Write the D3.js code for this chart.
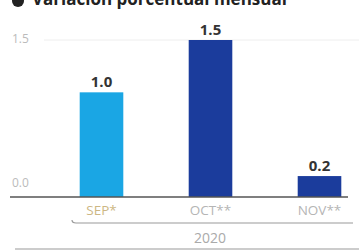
<!DOCTYPE html>
<html>
<head>
<meta charset="utf-8">
<script src="https://cdn.jsdelivr.net/npm/d3@7"></script>
<style>
  body { margin: 0; background: #fff; }
  svg { display: block; font-family: "Open Sans", sans-serif; }
</style>
</head>
<body>
<div id="chart"></div>
<script>
const title = "Variación porcentual mensual";
const months = ["SEP*", "OCT**", "NOV**"];
const values = [1.0, 1.5, 0.2];
const barColors = ["#1aa6e4", "#1b3c9c", "#1b3c9c"];
const yTicks = [0, 1.5];
const yearLabel = "2020";

const width = 359, height = 252;

const svg = d3.select("#chart")
  .append("svg")
  .attr("width", width)
  .attr("height", height);

// scales
const x = d3.scaleBand()
  .domain(months)
  .range([47, 374])
  .paddingInner(0.6)
  .paddingOuter(0.3);

const y = d3.scaleLinear()
  .domain([0, 1.5])
  .range([197, 40]);

// title (cut off at the top like in the original)
svg.append("circle")
  .attr("cx", 18).attr("cy", 1).attr("r", 6)
  .attr("fill", "#222");
svg.append("text")
  .attr("x", 32).attr("y", 5)
  .style("font-size", "17px")
  .style("font-weight", "bold")
  .attr("fill", "#222")
  .text(title);

// gridline at top tick
svg.append("line")
  .attr("x1", 44).attr("x2", width)
  .attr("y1", y(1.5)).attr("y2", y(1.5))
  .attr("stroke", "#eee").attr("stroke-width", 1);

// y labels
svg.selectAll(".ylab")
  .data(yTicks)
  .enter()
  .append("text")
  .attr("class", "ylab")
  .attr("x", 12)
  .attr("y", d => d === 0 ? y(d) - 10 : y(d) + 3)
  .style("font-size", "12px")
  .attr("fill", "#bbb")
  .text(d => d.toFixed(1));

// bars
svg.selectAll(".bar")
  .data(values)
  .enter()
  .append("rect")
  .attr("class", "bar")
  .attr("x", (d, i) => x(months[i]))
  .attr("y", d => y(d))
  .attr("width", x.bandwidth())
  .attr("height", d => y(0) - y(d))
  .attr("fill", (d, i) => barColors[i]);

// value labels
svg.selectAll(".val")
  .data(values)
  .enter()
  .append("text")
  .attr("class", "val")
  .attr("x", (d, i) => x(months[i]) + x.bandwidth() / 2)
  .attr("y", d => y(d) - 5)
  .attr("text-anchor", "middle")
  .style("font-size", "15px")
  .style("font-weight", "bold")
  .attr("fill", "#333")
  .text(d => d.toFixed(1));

// baseline
svg.append("line")
  .attr("x1", 10).attr("x2", 348)
  .attr("y1", y(0)).attr("y2", y(0))
  .attr("stroke", "#555").attr("stroke-width", 1.5);

// month labels
svg.append("g")
  .attr("transform", "translate(0," + y(0) + ")")
  .call(d3.axisBottom(x).tickSize(0).tickPadding(8))
  .call(g => g.select(".domain").remove())
  .selectAll("text")
  .style("font-family", "Open Sans, sans-serif")
  .style("font-size", "13.5px")
  .attr("fill", (d, i) => i === 0 ? "#cdb784" : "#b5b5b5");

// year bracket
svg.append("path")
  .attr("d", "M72,220 Q72,223 76,223 L353,223")
  .attr("fill", "none")
  .attr("stroke", "#999").attr("stroke-width", 1.2);

svg.append("text")
  .attr("x", 210).attr("y", 243)
  .attr("text-anchor", "middle")
  .style("font-size", "14px")
  .attr("fill", "#aaa")
  .text(yearLabel);

// bottom rule
svg.append("line")
  .attr("x1", 15).attr("x2", width)
  .attr("y1", 249).attr("y2", 249)
  .attr("stroke", "#ccc").attr("stroke-width", 2);
</script>
</body>
</html>
